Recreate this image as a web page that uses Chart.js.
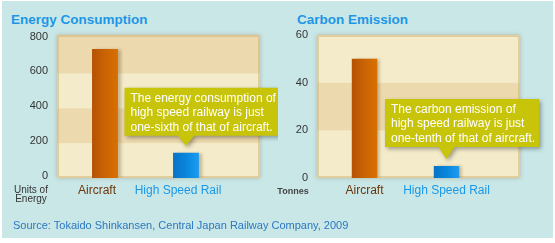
<!DOCTYPE html>
<html>
<head>
<meta charset="utf-8">
<script src="https://cdn.jsdelivr.net/npm/chart.js@4"></script>
<style>
  html, body { margin: 0; padding: 0; background: #fff; }
  body { font-family: "Liberation Sans", Arial, sans-serif; }
  #wrap { position: relative; width: 555px; height: 243px; overflow: hidden; }
  #panel { position: absolute; left: 2px; top: 1px; width: 551px; height: 237px; background: #c9e7e7; }
  .title { position: absolute; top: 12px; font-weight: bold; font-size: 13.5px; line-height: 16px; color: #1e96e6; }
  .unit { position: absolute; color: #333; text-align: center; }
  #source { position: absolute; left: 13px; top: 218px; font-size: 11px; line-height: 14px; color: #2b78c2; }
  canvas { position: absolute; top: 0; }
</style>
</head>
<body>
<div id="wrap">
  <div id="panel"></div>
  <div class="title" style="left:11px">Energy Consumption</div>
  <div class="title" style="left:297px">Carbon Emission</div>
  <canvas id="energyChart" width="278" height="210" style="left:0"></canvas>
  <canvas id="carbonChart" width="280" height="210" style="left:275px"></canvas>
  <div class="unit" style="left:6px;top:185px;width:50px;font-size:10px;line-height:9px">Units of<br>Energy</div>
  <div class="unit" style="left:270px;top:186px;width:46px;font-size:9px;line-height:10px;font-weight:bold;color:#444">Tonnes</div>
  <div id="source">Source: Tokaido Shinkansen, Central Japan Railway Company, 2009</div>
</div>
<script>
// data
const categories = ['Aircraft', 'High Speed Rail'];
const energyValues = [740, 145];
const energyTicks = [0, 200, 400, 600, 800];
const carbonValues = [50, 5];
const carbonTicks = [0, 20, 40, 60];
const energyNote = ['The energy consumption of', 'high speed railway is just', 'one-sixth of that of aircraft.'];
const carbonNote = ['The carbon emission of', 'high speed railway is just', 'one-tenth of that of aircraft.'];

const FONT = '"Liberation Sans", Arial, sans-serif';
const catColors = ['#6b3508', '#1a98e8'];
const DARK_BAND = '#ecd9ad';
const LIGHT_BAND = '#f3ebca';

// striped plot background (wider than the category area)
const bandPlugin = {
    id: 'bands',
    beforeDatasetsDraw(chart, args, opts) {
        const { ctx, chartArea } = chart;
        const y = chart.scales.y;
        const x0 = chartArea.left - opts.extLeft;
        const x1 = chartArea.right + opts.extRight;
        const ticks = opts.ticks;
        ctx.save();
        ctx.shadowColor = 'rgba(120, 90, 40, 0.35)';
        ctx.shadowBlur = 4;
        ctx.fillStyle = LIGHT_BAND;
        ctx.fillRect(x0, chartArea.top, x1 - x0, chartArea.bottom - chartArea.top);
        ctx.restore();
        ctx.save();
        for (let i = 0; i < ticks.length - 1; i++) {
            const yb = y.getPixelForValue(ticks[i]);
            const yt = i === ticks.length - 2 ? chartArea.top : y.getPixelForValue(ticks[i + 1]);
            ctx.fillStyle = opts.colors[i];
            ctx.fillRect(x0, yt, x1 - x0, yb - yt);
        }
        // soft bevel
        ctx.strokeStyle = 'rgba(215, 185, 125, 0.6)';
        ctx.lineWidth = 2;
        ctx.strokeRect(x0 + 1, chartArea.top + 1, x1 - x0 - 2, chartArea.bottom - chartArea.top - 2);
        ctx.restore();
    },
    beforeDatasetDraw(chart) {
        const ctx = chart.ctx;
        ctx.save();
        ctx.shadowColor = 'rgba(90, 60, 20, 0.3)';
        ctx.shadowBlur = 3;
        ctx.shadowOffsetX = 3;
    },
    afterDatasetDraw(chart) {
        chart.ctx.restore();
    }
};

// callout box pointing at the rail bar
const notePlugin = {
    id: 'note',
    afterDatasetsDraw(chart, args, opts) {
        const { ctx } = chart;
        const bar = chart.getDatasetMeta(0).data[1];
        ctx.save();
        ctx.font = '12px ' + FONT;
        const w = Math.max(...opts.lines.map(l => ctx.measureText(l).width)) + 10;
        const h = 48;
        const left = bar.x - 61.5;
        const bottom = bar.y - opts.gap;
        const top = bottom - h;
        ctx.shadowColor = 'rgba(0, 0, 0, 0.35)';
        ctx.shadowBlur = 4;
        ctx.shadowOffsetX = 2;
        ctx.shadowOffsetY = 2;
        ctx.fillStyle = '#c8c40a';
        ctx.beginPath();
        ctx.moveTo(left, top);
        ctx.lineTo(left + w, top);
        ctx.lineTo(left + w, bottom);
        ctx.lineTo(bar.x + 8, bottom);
        ctx.lineTo(bar.x, bottom + opts.tip);
        ctx.lineTo(bar.x - 8, bottom);
        ctx.lineTo(left, bottom);
        ctx.closePath();
        ctx.fill();
        ctx.shadowColor = 'transparent';
        ctx.fillStyle = '#ffffff';
        ctx.textBaseline = 'middle';
        opts.lines.forEach((l, i) => ctx.fillText(l, left + 6, top + 10.5 + i * 14.5));
        ctx.restore();
    }
};

function barGradient(c, pct) {
    const xs = c.chart.scales.x;
    const fallback = c.dataIndex === 0 ? '#c85f04' : '#1088e0';
    if (!xs) return fallback;
    const cx = xs.getPixelForValue(c.dataIndex);
    const half = (xs.width / categories.length) * pct / 2;
    if (!isFinite(cx) || !isFinite(half) || half <= 0) return fallback;
    const g = c.chart.ctx.createLinearGradient(cx - half, 0, cx + half, 0);
    if (c.dataIndex === 0) {
        g.addColorStop(0, '#b45204');
        g.addColorStop(0.45, '#c96204');
        g.addColorStop(1, '#d87000');
    } else {
        g.addColorStop(0, '#0872c8');
        g.addColorStop(0.5, '#0a86dc');
        g.addColorStop(1, '#1c9cf0');
    }
    return g;
}

function makeChart(id, cfg) {
    return new Chart(document.getElementById(id), {
        type: 'bar',
        data: {
            labels: categories,
            datasets: [{
                data: cfg.values,
                backgroundColor: (c) => barGradient(c, cfg.barPct),
                borderWidth: 0,
                barPercentage: cfg.barPct,
                categoryPercentage: 1
            }]
        },
        options: {
            responsive: false,
            animation: false,
            events: [],
            layout: { padding: { top: 35, right: cfg.padRight, bottom: 0, left: 0 } },
            scales: {
                x: {
                    grid: { display: false, drawTicks: false },
                    border: { display: false },
                    ticks: {
                        color: (c) => catColors[c.index],
                        font: { family: FONT, size: 12 },
                        padding: 5,
                        maxRotation: 0,
                        autoSkip: false,
                        labelOffset: cfg.xLabelOffset
                    },
                    afterFit: (s) => { s.height = 32; }
                },
                y: {
                    min: 0,
                    max: cfg.max,
                    grid: { display: false, drawTicks: false },
                    border: { display: false },
                    afterBuildTicks: (s) => { s.ticks = cfg.ticks.map(v => ({ value: v })); },
                    ticks: {
                        color: '#333',
                        font: { family: FONT, size: 11 },
                        padding: cfg.yPad,
                        labelOffset: cfg.yLabelOffset
                    },
                    afterFit: (s) => { s.width = cfg.axisWidth; }
                }
            },
            plugins: {
                legend: { display: false },
                tooltip: { enabled: false },
                bands: { ticks: cfg.ticks, colors: cfg.bandColors, extLeft: cfg.extLeft, extRight: cfg.extRight },
                note: { lines: cfg.note, gap: cfg.gap, tip: cfg.tip }
            }
        },
        plugins: [bandPlugin, notePlugin]
    });
}

makeChart('energyChart', {
    values: energyValues, ticks: energyTicks, max: 820,
    axisWidth: 64.5, yPad: 16.5, padRight: 51.5, extLeft: 7.5, extRight: 33.5,
    bandColors: [LIGHT_BAND, DARK_BAND, LIGHT_BAND, DARK_BAND],
    barPct: 0.32, xLabelOffset: -8, yLabelOffset: -2,
    note: energyNote, gap: 17, tip: 10
});

makeChart('carbonChart', {
    values: carbonValues, ticks: carbonTicks, max: 60,
    axisWidth: 48.5, yPad: 15.5, padRight: 67.5, extLeft: 6.5, extRight: 32.5,
    bandColors: [LIGHT_BAND, DARK_BAND, LIGHT_BAND],
    barPct: 0.31, xLabelOffset: 0, yLabelOffset: 0,
    note: carbonNote, gap: 19, tip: 12
});
</script>
</body>
</html>
